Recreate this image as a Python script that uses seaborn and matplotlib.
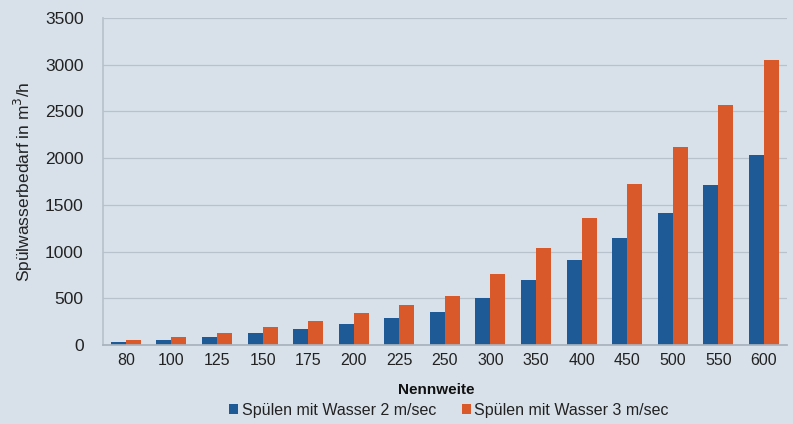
import matplotlib
matplotlib.use("Agg")
import matplotlib.pyplot as plt
import seaborn as sns
import pandas as pd
import numpy as np

categories = ["80", "100", "125", "150", "175", "200", "225", "250", "300", "350", "400", "450", "500", "550", "600"]
flow_2ms = [36, 57, 88, 127, 173, 226, 286, 353, 509, 693, 905, 1145, 1414, 1710, 2036]
flow_3ms = [54, 85, 133, 191, 260, 339, 429, 530, 763, 1039, 1357, 1718, 2121, 2566, 3054]
series_names = ["Spülen mit Wasser 2 m/sec", "Spülen mit Wasser 3 m/sec"]
yticks = [0, 500, 1000, 1500, 2000, 2500, 3000, 3500]

df = pd.DataFrame({
    "Nennweite": categories * 2,
    "value": flow_2ms + flow_3ms,
    "series": [series_names[0]] * len(categories) + [series_names[1]] * len(categories),
})

bg = "#d8e1e9"
sns.set_theme(style="white")
plt.rcParams["font.family"] = ["Liberation Sans", "DejaVu Sans"]

fig = plt.figure(figsize=(7.93, 4.24), dpi=100, facecolor=bg)
ax = fig.add_axes([0.130, 0.186, 0.862, 0.772])
ax.set_facecolor(bg)

sns.barplot(data=df, x="Nennweite", y="value", hue="series", order=categories,
            palette=["#1d5a96", "#d9592a"], width=0.66, saturation=1, ax=ax,
            edgecolor="none", linewidth=0, gap=0)

ax.set_ylim(0, 3500)
ax.set_yticks(yticks)
ax.set_yticklabels([str(t) for t in yticks], fontsize=12.5, color="#222222")
ax.set_xlim(-0.5, len(categories) - 0.5)
ax.tick_params(axis="x", which="major", length=0, labelsize=11.5, labelcolor="#222222", pad=6)
ax.tick_params(axis="y", which="major", length=0, pad=14)
ax.set_xticks(np.arange(-0.5, len(categories), 1.0), minor=True)
ax.tick_params(axis="x", which="minor", length=4, color="#a8b2bc", width=0.8)

ax.grid(axis="y", color="#b8c2cc", linewidth=0.9)
ax.set_axisbelow(True)
for s in ["top", "right"]:
    ax.spines[s].set_visible(False)
ax.spines["left"].set_color("#b8c2cc")
ax.spines["bottom"].set_color("#a8b2bc")

ax.set_xlabel("")
fig.text(0.55, 1 - 390 / 424, "Nennweite", fontsize=11, fontweight="bold",
         color="#111111", ha="center", va="center")
ax.set_ylabel("Spülwasserbedarf in m$^3$/h", fontsize=12.5, color="#222222", labelpad=7)

handles, labels = ax.get_legend_handles_labels()
ax.get_legend().remove()
leg = fig.legend(handles, labels, loc="center", bbox_to_anchor=(0.566, 1 - 410 / 424), ncol=2,
                 frameon=False, fontsize=11.5, handlelength=0.6, handleheight=0.6,
                 handletextpad=0.2, columnspacing=1.6)
for t in leg.get_texts():
    t.set_color("#222222")

fig.savefig("out.png", dpi=100, facecolor=bg)
